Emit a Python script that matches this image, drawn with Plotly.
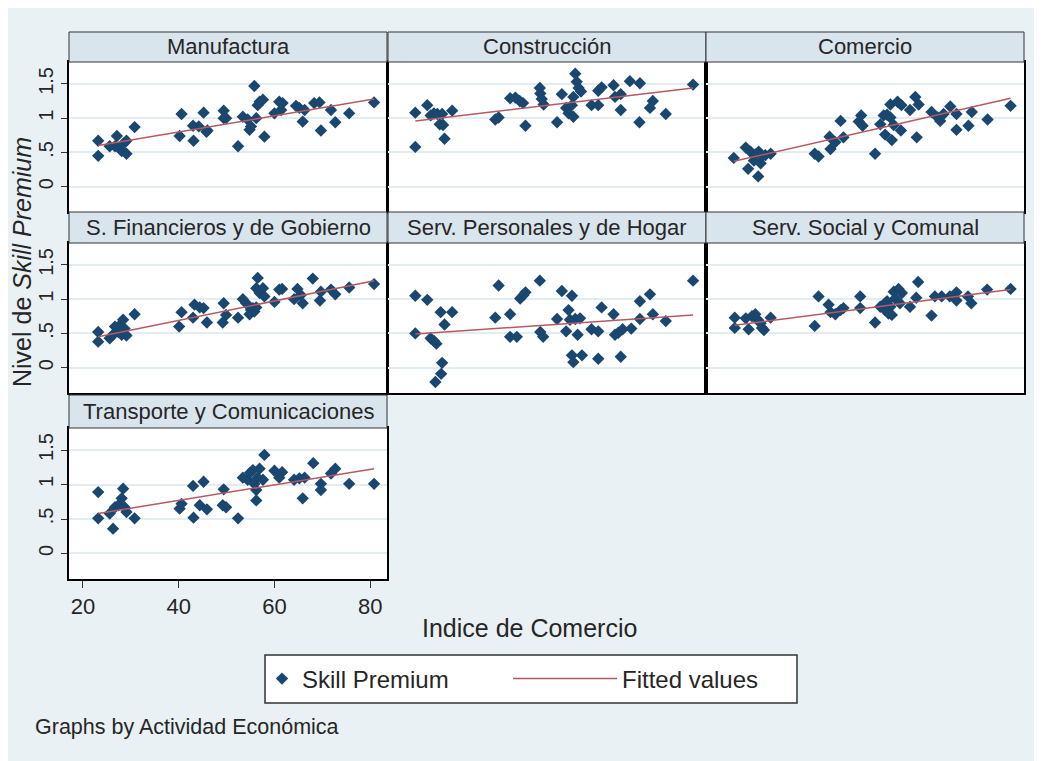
import plotly.graph_objects as go

# the page adds an 8px body margin, so the figure is drawn 8px in from the top-left
W, H = 1034, 753
OFF = 8

panel_names = [
    "Manufactura",
    "Construcción",
    "Comercio",
    "S. Financieros y de Gobierno",
    "Serv. Personales y de Hogar",
    "Serv. Social y Comunal",
    "Transporte y Comunicaciones",
]

# Indice de Comercio (x) and Skill Premium (y)
manuf_x = [23.2, 23.2, 25.6, 26.7, 27.1, 27.7, 28.1, 28.5, 29.1, 29.1, 30.8, 40.2, 40.6,
           43.0, 43.1, 44.2, 45.2, 45.8, 46.0, 49.4, 49.4, 49.9, 52.4, 53.4, 54.4, 54.8,
           55.1, 55.8, 56.2, 56.5, 56.9, 57.6, 57.9, 60.0, 61.0, 61.4, 61.7, 64.5, 65.2,
           65.9, 66.3, 68.3, 69.4, 69.7, 71.8, 72.7, 75.6, 80.8]
manuf_y = [0.67, 0.45, 0.59, 0.59, 0.74, 0.56, 0.52, 0.63, 0.67, 0.48, 0.87, 0.74, 1.06,
           0.89, 0.67, 0.88, 1.08, 0.80, 0.82, 1.11, 1.00, 1.00, 0.59, 1.02, 0.98, 0.83,
           0.88, 1.47, 1.00, 1.19, 1.24, 1.27, 0.73, 1.07, 1.24, 1.12, 1.22, 1.18, 1.15,
           0.95, 1.12, 1.22, 1.23, 0.82, 1.12, 0.94, 1.07, 1.23]

constr_x = [22.8, 22.8, 25.3, 26.0, 26.7, 27.4, 27.9, 28.4, 28.6, 28.9, 30.5, 39.5, 40.2,
            42.6, 43.7, 44.6, 45.3, 45.8, 48.8, 48.9, 49.2, 49.6, 52.4, 53.4, 54.3, 54.8,
            55.5, 55.8, 55.8, 56.2, 56.5, 56.9, 57.4, 59.6, 61.0, 61.0, 61.7, 64.2, 64.5,
            65.7, 65.7, 67.6, 69.7, 69.6, 71.8, 72.4, 75.1, 80.8]
constr_y = [1.08, 0.58, 1.19, 1.04, 1.07, 1.06, 0.91, 1.06, 0.90, 0.70, 1.11, 0.98, 1.01,
            1.29, 1.30, 1.25, 1.22, 0.89, 1.44, 1.36, 1.28, 1.20, 0.94, 1.35, 1.15, 1.07,
            1.19, 1.31, 1.02, 1.65, 1.53, 1.44, 1.39, 1.19, 1.19, 1.40, 1.45, 1.48, 1.31,
            1.35, 1.12, 1.54, 1.51, 0.94, 1.15, 1.25, 1.06, 1.49]

comer_x = [22.9, 25.4, 25.9, 26.4, 27.1, 27.4, 28.0, 28.1, 28.5, 28.8, 29.5, 30.6, 39.8,
           40.6, 42.9, 43.1, 44.1, 45.2, 45.8, 49.0, 49.5, 49.8, 52.4, 53.5, 54.2, 54.5,
           54.9, 55.6, 55.9, 56.3, 55.6, 57.1, 57.8, 57.9, 59.7, 60.8, 61.1, 61.5, 64.2,
           65.5, 66.0, 66.7, 68.1, 69.4, 69.4, 71.9, 72.6, 75.9, 80.7]
comer_y = [0.42, 0.57, 0.26, 0.51, 0.38, 0.47, 0.15, 0.51, 0.34, 0.44, 0.46, 0.48, 0.48,
           0.44, 0.73, 0.55, 0.65, 0.96, 0.72, 0.95, 1.04, 0.89, 0.48, 0.91, 1.04, 0.76,
           1.05, 1.01, 0.68, 0.90, 1.20, 1.24, 0.82, 1.19, 1.12, 1.31, 0.72, 1.20, 1.09,
           1.01, 0.96, 1.06, 1.17, 1.06, 0.83, 0.89, 1.09, 0.98, 1.18]

finan_x = [23.2, 23.2, 25.6, 26.3, 26.7, 27.4, 27.7, 28.1, 28.4, 28.7, 29.1, 30.8, 40.1,
           40.6, 43.0, 43.3, 44.4, 45.2, 45.9, 49.4, 49.2, 49.9, 52.4, 53.4, 54.1, 54.8,
           55.1, 55.5, 55.8, 56.2, 56.5, 56.2, 56.9, 57.6, 57.9, 60.0, 61.0, 61.6, 64.1,
           64.8, 65.5, 65.9, 68.0, 69.5, 69.7, 71.8, 72.7, 75.6, 80.8]
finan_y = [0.52, 0.38, 0.43, 0.48, 0.60, 0.52, 0.62, 0.48, 0.70, 0.57, 0.47, 0.78, 0.60,
           0.81, 0.73, 0.92, 0.88, 0.87, 0.66, 0.94, 0.66, 0.77, 0.73, 1.00, 0.94, 0.78,
           0.84, 0.87, 0.82, 0.88, 1.31, 1.16, 1.09, 1.16, 1.04, 0.96, 1.14, 1.15, 1.00,
           1.15, 1.06, 0.94, 1.30, 0.98, 1.11, 1.14, 1.07, 1.17, 1.22]

perso_x = [22.8, 22.8, 25.3, 26.0, 26.7, 27.2, 28.1, 28.2, 28.4, 27.0, 28.9, 30.5, 39.5,
           40.2, 42.6, 42.6, 44.0, 44.7, 45.4, 45.8, 48.8, 48.9, 49.5, 52.4, 53.4, 54.3,
           54.8, 55.1, 55.5, 55.5, 55.8, 56.2, 56.7, 57.2, 57.6, 59.6, 61.0, 61.0, 61.7,
           64.2, 64.5, 65.2, 65.7, 66.1, 67.9, 69.7, 69.7, 71.8, 72.4, 75.1, 80.8]
perso_y = [1.05, 0.50, 0.99, 0.43, 0.39, 0.35, 0.81, -0.09, 0.07, -0.21, 0.63, 0.81, 0.73,
           1.20, 0.78, 0.45, 0.45, 1.01, 1.06, 1.10, 1.27, 0.52, 0.45, 0.71, 1.12, 0.53,
           0.84, 0.70, 1.05, 0.18, 0.08, 0.71, 0.48, 0.72, 0.18, 0.56, 0.53, 0.13, 0.88,
           0.78, 0.48, 0.51, 0.16, 0.56, 0.57, 0.97, 0.71, 1.07, 0.78, 0.68, 1.27]

socia_x = [23.1, 23.1, 25.4, 26.0, 26.7, 27.4, 27.9, 28.5, 28.8, 29.2, 30.6, 39.8, 40.6,
           42.7, 43.1, 44.1, 45.2, 45.8, 49.3, 49.3, 52.4, 53.5, 54.2, 54.5, 54.9, 55.2,
           55.6, 55.9, 56.3, 56.6, 57.3, 58.0, 57.6, 59.7, 61.0, 61.4, 64.2, 64.9, 66.3,
           68.0, 69.4, 69.4, 71.8, 72.5, 75.8, 80.7]
socia_y = [0.73, 0.58, 0.72, 0.56, 0.75, 0.78, 0.70, 0.65, 0.58, 0.55, 0.73, 0.61, 1.04,
           0.92, 0.81, 0.78, 0.84, 0.87, 1.04, 0.87, 0.66, 0.89, 0.92, 0.84, 0.97, 0.79,
           0.89, 0.77, 1.11, 1.01, 1.15, 1.09, 0.94, 0.89, 1.02, 1.25, 0.76, 1.04, 1.04,
           1.04, 1.10, 0.98, 1.04, 0.94, 1.14, 1.15]

trans_x = [23.2, 23.2, 25.6, 26.3, 26.7, 27.4, 28.1, 28.4, 28.7, 29.1, 30.8, 40.2, 40.6,
           43.0, 43.1, 44.4, 45.2, 45.9, 49.4, 49.2, 49.9, 52.4, 53.4, 54.4, 54.9, 55.5,
           55.8, 56.2, 56.2, 56.5, 56.9, 57.6, 57.9, 60.0, 61.0, 61.6, 64.1, 65.2, 65.9,
           66.3, 68.1, 69.7, 69.7, 71.8, 72.7, 75.6, 80.8]
trans_y = [0.89, 0.51, 0.58, 0.36, 0.67, 0.70, 0.80, 0.94, 0.67, 0.60, 0.51, 0.65, 0.72,
           0.98, 0.52, 0.70, 1.04, 0.64, 0.93, 0.70, 0.67, 0.51, 1.10, 1.07, 1.17, 1.21,
           1.01, 0.92, 0.77, 1.10, 1.23, 1.07, 1.43, 1.20, 1.10, 1.18, 1.07, 1.09, 0.80,
           1.10, 1.31, 1.01, 0.92, 1.16, 1.23, 1.01, 1.01]

# fitted values at the lowest and highest x of each panel
fit_start = [0.60, 0.96, 0.37, 0.45, 0.49, 0.62, 0.58]
fit_end = [1.28, 1.44, 1.29, 1.27, 0.77, 1.14, 1.23]

xs = [manuf_x, constr_x, comer_x, finan_x, perso_x, socia_x, trans_x]
ys = [manuf_y, constr_y, comer_y, finan_y, perso_y, socia_y, trans_y]

y_ticks = [0, 0.5, 1, 1.5]
y_tick_text = ["0", ".5", "1", "1.5"]
x_ticks = [20, 40, 60, 80]

NAVY = "#1a476f"
MAROON = "#b65a61"
BG = "#e9f1f4"
STRIP = "#d9e5ec"
FONT = "Liberation Sans, Arial, sans-serif"
TXT = "#262626"

# pixel boxes (page coordinates) of the panels
col_px = [(69, 387), (388, 706), (706, 1024)]
row_px = [(62, 212), (243, 393), (428, 579)]
head_px = [(32, 62), (212, 243), (395, 428)]


def fx(p):
    return (p - OFF) / W


def fy(p):
    return 1 - (p - OFF) / H


fig = go.Figure()
shapes = [
    # legend frame
    dict(type="rect", xref="paper", yref="paper", x0=fx(265), x1=fx(797), y0=fy(703), y1=fy(655),
         fillcolor="white", line=dict(color="#333", width=1.5), layer="below"),
]
annotations = []

for i, name in enumerate(panel_names):
    r, c = divmod(i, 3)
    n = "" if i == 0 else str(i + 1)
    x0, x1 = col_px[c]
    y0, y1 = row_px[r]
    h0, h1 = head_px[r]
    left = c == 0
    bottom = i == 6

    fig.add_trace(go.Scatter(
        x=xs[i], y=ys[i], mode="markers", name="Skill Premium",
        marker=dict(symbol="diamond", size=9.5, color=NAVY, line=dict(width=0)),
        xaxis="x" + n, yaxis="y" + n, showlegend=(i == 0), legend="legend",
    ))
    fig.add_trace(go.Scatter(
        x=[min(xs[i]), max(xs[i])], y=[fit_start[i], fit_end[i]], mode="lines",
        name="Fitted values", line=dict(color=MAROON, width=1.5),
        xaxis="x" + n, yaxis="y" + n, showlegend=(i == 0), legend="legend2",
    ))

    fig.layout["xaxis" + n] = dict(
        domain=[fx(x0), fx(x1)], anchor="y" + n, range=[17.1, 83.5],
        showgrid=False, zeroline=False, showline=True, mirror=True,
        linecolor="black", linewidth=2,
        tickvals=x_ticks, showticklabels=bottom, ticks="outside" if bottom else "",
        ticklen=7, tickcolor="#333", tickfont=dict(size=22, color=TXT, family=FONT),
    )
    fig.layout["yaxis" + n] = dict(
        domain=[fy(y1), fy(y0)], anchor="x" + n, range=[-0.37, 1.82],
        showgrid=True, gridcolor="#e3ecf0", gridwidth=1.5, zeroline=False,
        showline=True, mirror=True, linecolor="black", linewidth=2,
        tickvals=y_ticks, ticktext=y_tick_text, showticklabels=left,
        ticks="outside" if left else "", ticklen=6, tickcolor="#333", tickangle=-90,
        tickfont=dict(size=20, color=TXT, family=FONT),
    )

    shapes.append(dict(type="rect", xref="paper", yref="paper",
                       x0=fx(x0), x1=fx(x1), y0=fy(h1), y1=fy(h0),
                       fillcolor=STRIP, line=dict(color="#333", width=1)))
    annotations.append(dict(text=name, xref="paper", yref="paper",
                            x=fx((x0 + x1) / 2), y=fy((h0 + h1) / 2),
                            xanchor="center", yanchor="middle", showarrow=False,
                            font=dict(size=22, color=TXT, family=FONT)))

annotations += [
    dict(text="Nivel de <i>Skill Premium</i>", xref="paper", yref="paper",
         x=fx(22), y=fy(262), textangle=-90, showarrow=False,
         xanchor="center", yanchor="middle", font=dict(size=25, color=TXT, family=FONT)),
    dict(text="Indice de Comercio", xref="paper", yref="paper",
         x=fx(529), y=fy(628), showarrow=False, xanchor="center", yanchor="middle",
         font=dict(size=25, color=TXT, family=FONT)),
    dict(text="Graphs by Actividad Económica", xref="paper", yref="paper",
         x=fx(33), y=fy(727), showarrow=False, xanchor="left", yanchor="middle",
         font=dict(size=21.5, color=TXT, family=FONT)),
]

leg_font = dict(size=24, color=TXT, family=FONT)
fig.update_layout(
    width=W, height=H, margin=dict(l=0, r=0, t=0, b=0),
    paper_bgcolor=BG, plot_bgcolor="white",
    font=dict(family=FONT, color=TXT),
    shapes=shapes, annotations=annotations,
    legend=dict(orientation="h", x=fx(262), xanchor="left", y=fy(679), yanchor="middle",
                bgcolor="rgba(0,0,0,0)", borderwidth=0, font=leg_font, itemwidth=30),
    legend2=dict(orientation="h", x=fx(508), xanchor="left", y=fy(679), yanchor="middle",
                 bgcolor="rgba(0,0,0,0)", borderwidth=0, font=leg_font, itemwidth=104),
)

fig.write_html("out.html")
